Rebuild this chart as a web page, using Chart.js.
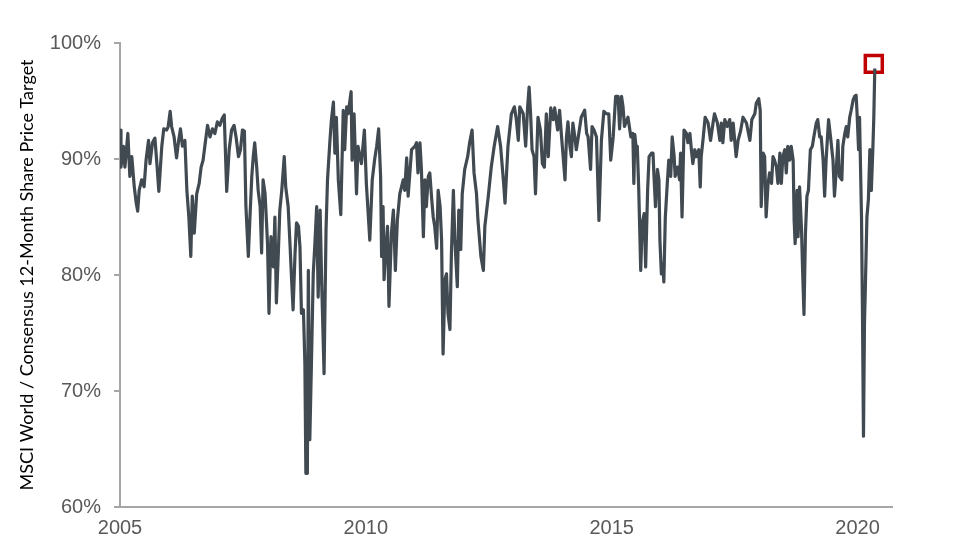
<!DOCTYPE html>
<html>
<head>
<meta charset="utf-8">
<script src="https://cdn.jsdelivr.net/npm/chart.js@4.4.1/dist/chart.umd.min.js"></script>
<style>
  html, body { margin: 0; padding: 0; background: #fff; }
  #wrap { width: 966px; height: 550px; }
</style>
</head>
<body>
<div id="wrap"><canvas id="chart" width="966" height="550"></canvas></div>
<script>
// x positions as decimal years
const dates = [
  2005.00, 2005.02, 2005.07, 2005.10, 2005.16, 2005.20, 2005.24, 2005.29, 2005.33, 2005.36,
  2005.39, 2005.44, 2005.49, 2005.53, 2005.58, 2005.61, 2005.66, 2005.71, 2005.75, 2005.79,
  2005.85, 2005.89, 2005.95, 2005.98, 2006.02, 2006.05, 2006.10, 2006.15, 2006.19, 2006.23,
  2006.27, 2006.32, 2006.36, 2006.40, 2006.44, 2006.47, 2006.51, 2006.56, 2006.61, 2006.65,
  2006.69, 2006.74, 2006.78, 2006.83, 2006.88, 2006.93, 2006.98, 2007.03, 2007.08, 2007.12,
  2007.17, 2007.22, 2007.27, 2007.32, 2007.36, 2007.41, 2007.45, 2007.49, 2007.53, 2007.56,
  2007.61, 2007.64, 2007.68, 2007.71, 2007.74, 2007.78, 2007.81, 2007.85, 2007.88, 2007.91,
  2007.95, 2007.98, 2008.00, 2008.03, 2008.07, 2008.12, 2008.15, 2008.18, 2008.22, 2008.25,
  2008.29, 2008.34, 2008.37, 2008.42, 2008.46, 2008.49, 2008.52, 2008.56, 2008.59, 2008.63,
  2008.66, 2008.69, 2008.73, 2008.76, 2008.78, 2008.81, 2008.83, 2008.86, 2008.90, 2008.93,
  2008.96, 2009.00, 2009.03, 2009.07, 2009.10, 2009.15, 2009.19, 2009.22, 2009.27, 2009.30,
  2009.34, 2009.37, 2009.40, 2009.44, 2009.49, 2009.54, 2009.57, 2009.61, 2009.64, 2009.70,
  2009.72, 2009.76, 2009.81, 2009.84, 2009.91, 2009.97, 2010.01, 2010.08, 2010.13, 2010.18,
  2010.22, 2010.26, 2010.30, 2010.32, 2010.35, 2010.37, 2010.40, 2010.44, 2010.47, 2010.52,
  2010.56, 2010.60, 2010.64, 2010.69, 2010.76, 2010.79, 2010.83, 2010.86, 2010.90, 2010.93,
  2011.00, 2011.03, 2011.06, 2011.10, 2011.13, 2011.17, 2011.20, 2011.23, 2011.27, 2011.30,
  2011.34, 2011.37, 2011.40, 2011.44, 2011.47, 2011.51, 2011.54, 2011.57, 2011.61, 2011.64,
  2011.67, 2011.71, 2011.74, 2011.78, 2011.81, 2011.86, 2011.89, 2011.93, 2011.96, 2012.01,
  2012.07, 2012.11, 2012.16, 2012.20, 2012.25, 2012.28, 2012.34, 2012.39, 2012.42, 2012.49,
  2012.55, 2012.61, 2012.68, 2012.74, 2012.80, 2012.83, 2012.89, 2012.96, 2013.02, 2013.06,
  2013.10, 2013.13, 2013.20, 2013.25, 2013.29, 2013.32, 2013.35, 2013.38, 2013.42, 2013.45,
  2013.50, 2013.55, 2013.59, 2013.63, 2013.67, 2013.71, 2013.76, 2013.81, 2013.84, 2013.90,
  2013.94, 2013.98, 2014.05, 2014.08, 2014.11, 2014.15, 2014.18, 2014.21, 2014.25, 2014.28,
  2014.32, 2014.38, 2014.45, 2014.49, 2014.52, 2014.57, 2014.60, 2014.64, 2014.69, 2014.74,
  2014.79, 2014.84, 2014.89, 2014.94, 2014.98, 2015.03, 2015.08, 2015.13, 2015.16, 2015.20,
  2015.23, 2015.26, 2015.33, 2015.39, 2015.43, 2015.45, 2015.47, 2015.50, 2015.52, 2015.55,
  2015.59, 2015.62, 2015.66, 2015.69, 2015.73, 2015.76, 2015.81, 2015.84, 2015.86, 2015.89,
  2015.93, 2015.96, 2015.98, 2016.01, 2016.04, 2016.06, 2016.09, 2016.13, 2016.16, 2016.20,
  2016.23, 2016.27, 2016.29, 2016.34, 2016.38, 2016.40, 2016.43, 2016.47, 2016.52, 2016.55,
  2016.59, 2016.62, 2016.65, 2016.69, 2016.72, 2016.77, 2016.80, 2016.82, 2016.86, 2016.90,
  2016.96, 2017.01, 2017.06, 2017.09, 2017.15, 2017.20, 2017.23, 2017.26, 2017.30, 2017.35,
  2017.40, 2017.43, 2017.47, 2017.53, 2017.57, 2017.62, 2017.67, 2017.74, 2017.81, 2017.85,
  2017.91, 2017.94, 2017.99, 2018.02, 2018.04, 2018.08, 2018.11, 2018.14, 2018.18, 2018.21,
  2018.25, 2018.28, 2018.31, 2018.35, 2018.38, 2018.42, 2018.45, 2018.48, 2018.52, 2018.55,
  2018.58, 2018.62, 2018.65, 2018.69, 2018.71, 2018.73, 2018.77, 2018.79, 2018.82, 2018.86,
  2018.88, 2018.91, 2018.94, 2018.97, 2019.00, 2019.04, 2019.08, 2019.11, 2019.16, 2019.19,
  2019.23, 2019.26, 2019.30, 2019.33, 2019.36, 2019.41, 2019.45, 2019.50, 2019.53, 2019.57,
  2019.60, 2019.63, 2019.68, 2019.70, 2019.74, 2019.77, 2019.80, 2019.84, 2019.87, 2019.91,
  2019.94, 2019.97, 2019.99, 2020.02, 2020.04, 2020.08, 2020.10, 2020.12, 2020.14, 2020.16,
  2020.19, 2020.22, 2020.25, 2020.28, 2020.31, 2020.33, 2020.35
];

// MSCI World / consensus 12-month price target, in %
const ratio = [
  92.5, 89.3, 91.1, 89.3, 92.2, 88.5, 90.2, 87.6, 86.2, 85.5,
  87.3, 88.2, 87.6, 89.9, 91.6, 89.6, 91.4, 91.8, 89.6, 87.2,
  91.1, 92.6, 92.5, 92.8, 94.1, 92.8, 91.9, 90.1, 91.5, 92.6,
  91.1, 91.6, 87.3, 85.0, 81.6, 86.8, 83.6, 87.0, 87.9, 89.3,
  89.9, 91.6, 92.9, 91.9, 92.6, 92.2, 93.2, 92.9, 93.5, 93.8,
  87.2, 90.8, 92.5, 92.9, 91.9, 90.2, 90.8, 92.5, 92.4, 86.0,
  81.6, 84.7, 88.5, 90.2, 91.4, 89.3, 87.3, 85.9, 81.9, 88.2,
  87.0, 84.5, 82.7, 76.7, 83.3, 80.7, 85.0, 77.6, 81.9, 85.6,
  87.3, 90.2, 87.6, 85.9, 82.4, 79.6, 77.0, 81.9, 84.5, 84.2,
  82.4, 76.7, 77.0, 72.4, 62.9, 62.9, 80.4, 65.8, 73.8, 80.1,
  82.4, 85.9, 78.1, 85.6, 79.6, 71.5, 83.9, 88.2, 91.6, 93.4,
  94.9, 90.5, 93.6, 88.2, 85.2, 94.2, 90.8, 94.5, 93.9, 95.8,
  89.9, 93.9, 87.0, 91.1, 89.6, 92.5, 87.9, 83.0, 88.2, 90.0,
  91.1, 92.6, 88.5, 81.6, 85.9, 79.6, 81.9, 84.2, 77.3, 83.6,
  85.6, 80.4, 84.7, 87.0, 88.2, 87.3, 90.1, 86.8, 89.1, 90.8,
  91.1, 91.4, 88.8, 91.4, 89.1, 83.3, 88.2, 85.9, 88.5, 88.8,
  86.5, 85.0, 84.2, 82.3, 87.3, 85.9, 83.0, 73.2, 79.6, 80.1,
  76.7, 75.3, 81.9, 87.3, 83.0, 79.0, 85.6, 82.2, 87.0, 89.1,
  90.2, 91.4, 92.5, 88.8, 87.0, 84.7, 81.6, 80.4, 84.2, 86.8,
  89.3, 91.1, 92.8, 91.1, 88.0, 86.2, 91.1, 93.9, 94.5, 93.4,
  91.6, 94.5, 93.9, 91.1, 94.5, 96.2, 93.9, 90.8, 90.2, 87.0,
  93.6, 92.5, 89.6, 89.3, 93.9, 90.2, 94.4, 93.4, 94.4, 92.5,
  94.2, 91.9, 88.2, 91.9, 93.2, 91.1, 90.2, 93.1, 91.9, 90.8,
  91.9, 93.6, 94.2, 92.2, 91.9, 89.1, 92.8, 92.5, 91.9, 84.7,
  91.6, 94.1, 93.9, 93.9, 89.9, 91.9, 95.4, 95.4, 92.6, 95.4,
  94.5, 92.8, 93.6, 91.9, 92.2, 87.9, 92.1, 90.8, 91.1, 87.3,
  80.4, 84.5, 85.3, 80.7, 87.3, 90.2, 90.5, 90.5, 88.5, 85.9,
  89.1, 88.2, 83.0, 80.1, 81.0, 79.4, 85.0, 87.9, 89.9, 88.5,
  91.9, 90.2, 88.5, 89.3, 88.2, 90.5, 85.0, 92.5, 92.2, 91.4,
  92.2, 90.8, 89.6, 90.8, 90.2, 90.8, 87.6, 90.2, 91.8, 93.6,
  93.1, 91.6, 93.1, 93.9, 93.1, 91.6, 93.1, 91.4, 93.4, 92.8,
  93.4, 91.6, 93.1, 90.2, 91.6, 92.4, 93.6, 93.1, 91.6, 93.4,
  93.9, 94.8, 95.2, 94.2, 85.9, 90.5, 90.2, 85.0, 87.9, 88.8,
  87.9, 90.2, 89.9, 89.3, 87.9, 90.5, 87.9, 90.2, 90.8, 88.8,
  91.1, 89.9, 91.1, 89.9, 84.7, 82.7, 87.3, 83.3, 87.6, 83.9,
  80.7, 76.6, 83.6, 86.8, 87.3, 90.8, 91.1, 91.9, 93.1, 93.4,
  91.9, 91.9, 89.9, 86.8, 89.9, 93.4, 91.9, 89.9, 86.8, 89.3,
  91.6, 88.5, 88.2, 91.1, 92.2, 92.8, 91.9, 93.6, 94.2, 95.1,
  95.4, 95.5, 93.9, 90.8, 93.6, 85.0, 76.4, 66.1, 75.8, 79.3,
  85.0, 86.5, 90.8, 87.3, 90.8, 93.6, 97.8
];

// highlighted latest reading (red box)
const markerDate = [2020.33];
const markerValue = [98.2];

const yearTicks = [2005, 2010, 2015, 2020];
const pctTicks = [60, 70, 80, 90, 100];

const axisGrey = '#a6a6a6';
const labelGrey = '#595959';

const series = dates.map((d, i) => ({ x: d, y: ratio[i] }));
const marker = markerDate.map((d, i) => ({ x: d, y: markerValue[i] }));

new Chart(document.getElementById('chart'), {
  type: 'line',
  data: {
    datasets: [
      {
        data: series,
        borderColor: '#414a51',
        borderWidth: 3.2,
        borderJoinStyle: 'round',
        pointRadius: 0,
        tension: 0,
        fill: false
      },
      {
        data: marker,
        showLine: false,
        pointStyle: 'rect',
        pointRadius: 12,
        pointBorderWidth: 3.5,
        pointBorderColor: '#c00000',
        pointBackgroundColor: 'rgba(255,255,255,0)'
      }
    ]
  },
  options: {
    responsive: false,
    animation: false,
    layout: { padding: { left: 0, right: 74, top: 43, bottom: 0 } },
    plugins: {
      legend: { display: false },
      tooltip: { enabled: false }
    },
    scales: {
      x: {
        type: 'linear',
        min: 2005,
        max: 2020.7,
        afterBuildTicks: s => { s.ticks = yearTicks.map(v => ({ value: v })); },
        afterFit: s => { s.height = 43; },
        grid: { display: false, drawTicks: false },
        border: { color: axisGrey, width: 2 },
        ticks: {
          padding: 9,
          color: labelGrey,
          font: { family: 'Liberation Sans', size: 20 },
          maxRotation: 0,
          callback: v => String(v)
        }
      },
      y: {
        min: 60,
        max: 100,
        afterBuildTicks: s => { s.ticks = pctTicks.map(v => ({ value: v })); },
        afterFit: s => { s.width = 120; },
        grid: { drawOnChartArea: false, drawTicks: true, tickLength: 6, color: axisGrey, lineWidth: 2 },
        border: { color: axisGrey, width: 2 },
        ticks: {
          padding: 13,
          color: labelGrey,
          font: { family: 'Liberation Sans', size: 20 },
          callback: v => v + '%'
        },
        title: {
          display: true,
          text: 'MSCI World / Consensus 12-Month Share Price Target',
          color: '#000',
          font: { family: 'Lato', size: 18 },
          padding: { top: 16, bottom: 0 }
        }
      }
    }
  }
});
</script>
</body>
</html>
